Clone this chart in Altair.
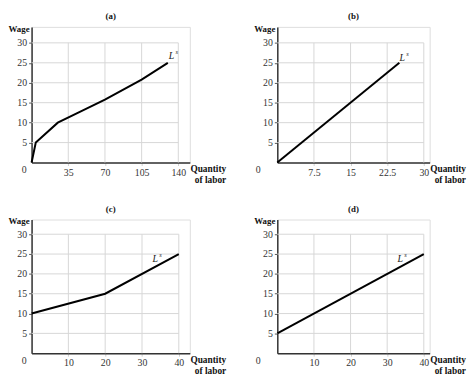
import altair as alt
import pandas as pd

FONT = "Liberation Serif"

# ---- data ----
a_x = [0, 4, 25, 47, 70, 105, 130]
a_y = [0, 5, 10, 12.8, 15.8, 20.8, 25]
b_x = [0, 25]
b_y = [0, 25]
c_x = [0, 20, 40]
c_y = [10, 15, 25]
d_x = [0, 40]
d_y = [5, 25]

y_ticks = [5, 10, 15, 20, 25, 30]
a_ticks = [35, 70, 105, 140]
b_ticks = [7.5, 15, 22.5, 30]
cd_ticks = [10, 20, 30, 40]

panels = [
    dict(name="(a)", xs=a_x, ys=a_y, ticks=a_ticks, xmax=140, xdom=151, lab=(133.5, 26.8),
         w=161, h=138, ydom=34, zdx=-5),
    dict(name="(b)", xs=b_x, ys=b_y, ticks=b_ticks, xmax=30, xdom=31.2, lab=(25.6, 26.3),
         w=155, h=138, ydom=34, zdx=-17),
    dict(name="(c)", xs=c_x, ys=c_y, ticks=cd_ticks, xmax=40, xdom=43, lab=(33.6, 23.8),
         w=161, h=136, ydom=33.7, zdx=-5),
    dict(name="(d)", xs=d_x, ys=d_y, ticks=cd_ticks, xmax=40, xdom=41.6, lab=(33.6, 23.8),
         w=155, h=136, ydom=33.7, zdx=-17),
]


def panel(p):
    xs = alt.Scale(domain=[0, p["xdom"]], nice=False, zero=False)
    ys = alt.Scale(domain=[0, p["ydom"]], nice=False, zero=False)
    xaxis = alt.Axis(values=p["ticks"], format=".1~f", grid=False, domainColor="#333",
                     domainWidth=1.5, tickColor="#cfcfcf", tickSize=3, labelFont=FONT,
                     labelFontSize=10, labelColor="#333", labelPadding=2,
                     labelFlush=False, labelOverlap=False, title=None)
    yaxis = alt.Axis(values=y_ticks, format=".1~f", grid=False, domainColor="#333",
                     domainWidth=1.5, tickColor="#555", tickSize=3, labelFont=FONT,
                     labelFontSize=10, labelColor="#333", labelPadding=2,
                     labelFlush=False, labelOverlap=False, title=None)

    X = lambda f: alt.X(f, scale=xs, axis=xaxis, title=None)
    Y = lambda f: alt.Y(f, scale=ys, axis=yaxis, title=None)

    hgrid = pd.DataFrame({"gy": y_ticks, "gx0": [0] * len(y_ticks), "gx1": [p["xmax"]] * len(y_ticks)})
    vgrid = pd.DataFrame({"gx": p["ticks"], "gy0": [0] * len(p["ticks"]), "gy1": [30] * len(p["ticks"])})
    line_df = pd.DataFrame({"x": p["xs"], "y": p["ys"]})
    origin = pd.DataFrame({"x": [0], "y": [0], "t": ["0"]})
    top = pd.DataFrame({"x": [0], "y": [p["ydom"]], "t": ["Wage"]})
    right = pd.DataFrame({"x": [p["xdom"]], "y": [0], "t": [["Quantity", "of labor"]]})
    lab = pd.DataFrame({"x": [p["lab"][0]], "y": [p["lab"][1]]})

    hg = alt.Chart(hgrid).mark_rule(color="#d6d6d6", strokeWidth=1).encode(
        x=X("gx0:Q"), x2="gx1:Q", y=Y("gy:Q"))
    vg = alt.Chart(vgrid).mark_rule(color="#d6d6d6", strokeWidth=1).encode(
        x=X("gx:Q"), y=Y("gy0:Q"), y2="gy1:Q")
    line = alt.Chart(line_df).mark_line(color="black", strokeWidth=2).encode(
        x=X("x:Q"), y=Y("y:Q"))

    t0 = alt.Chart(origin).mark_text(font=FONT, fontSize=10, color="#333", align="right",
                                     baseline="top", dx=p["zdx"], dy=3).encode(
        x=X("x:Q"), y=Y("y:Q"), text="t:N")
    tw = alt.Chart(top).mark_text(font=FONT, fontSize=9, fontWeight="bold", color="#111",
                                  align="right", baseline="middle", dx=-2, dy=2).encode(
        x=X("x:Q"), y=Y("y:Q"), text="t:N")
    tq = alt.Chart(right).mark_text(font=FONT, fontSize=9.5, fontWeight="bold", color="#111",
                                    align="right", baseline="top", dx=37, dy=2, lineHeight=11).encode(
        x=X("x:Q"), y=Y("y:Q"), text="t")
    tl = alt.Chart(lab).mark_text(font=FONT, fontSize=10, fontStyle="italic", color="#222",
                                  align="center", baseline="middle", text="L").encode(
        x=X("x:Q"), y=Y("y:Q"))
    ts = alt.Chart(lab).mark_text(font=FONT, fontSize=6.5, fontStyle="italic", color="#222",
                                  align="left", baseline="middle", dx=4, dy=-4, text="s").encode(
        x=X("x:Q"), y=Y("y:Q"))

    return alt.layer(hg, vg, line, t0, tw, tq, tl, ts).properties(
        width=p["w"], height=p["h"],
        title=alt.TitleParams(p["name"], font=FONT, fontSize=9, fontWeight="bold",
                              color="#111", anchor="middle", offset=4),
    )


chart = alt.concat(*[panel(p) for p in panels], columns=2,
                   spacing={"row": 58, "column": 89}, bounds="flush").properties(
    padding=0
).configure_view(stroke=None).configure(background="white")

chart.save("out.html", embed_options={"renderer": "svg", "actions": False})
